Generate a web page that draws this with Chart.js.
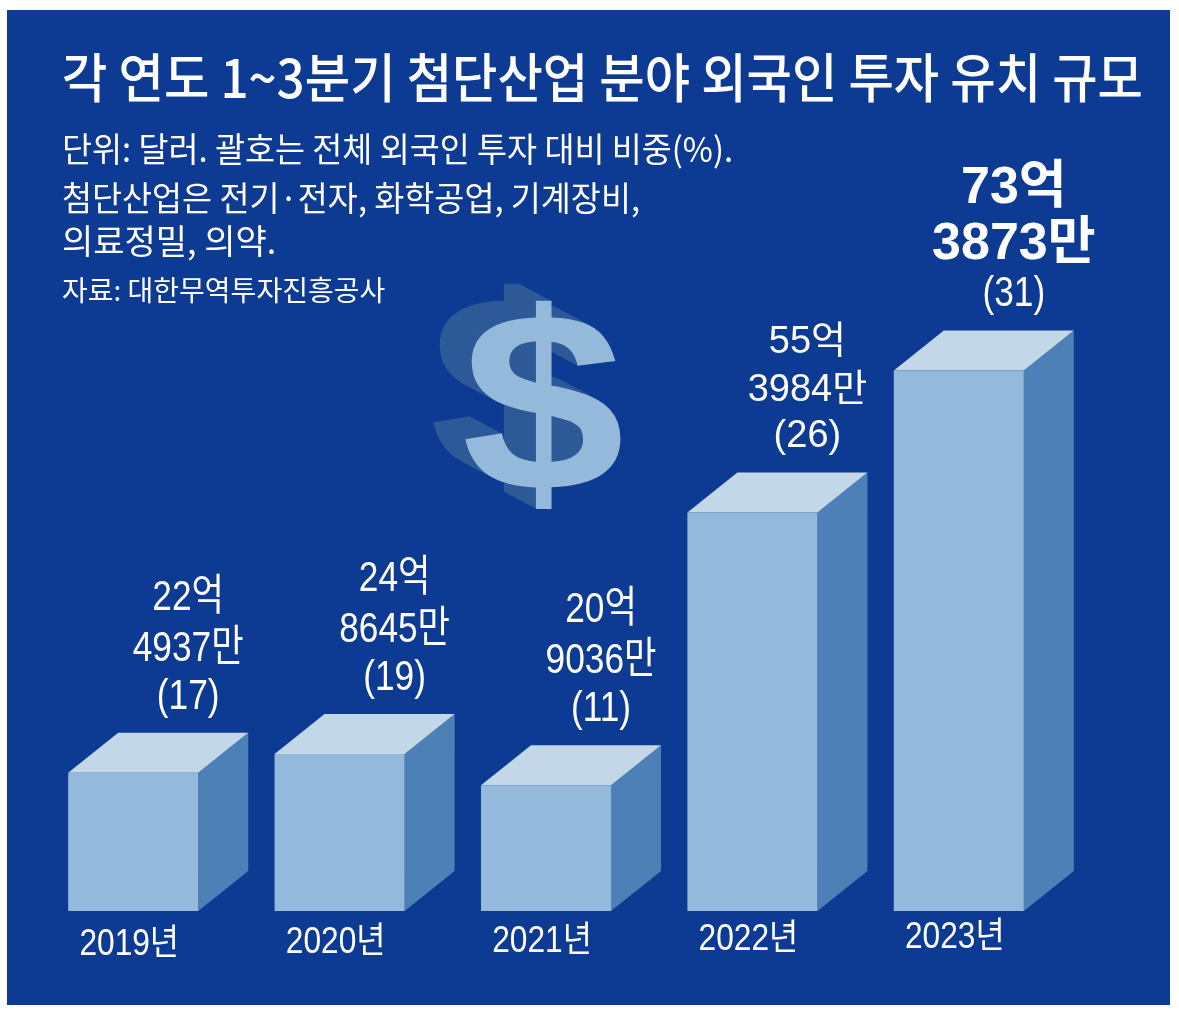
<!DOCTYPE html>
<html>
<head>
<meta charset="utf-8">
<script src="https://cdn.jsdelivr.net/npm/chart.js@4/dist/chart.umd.min.js"></script>
<style>
  html,body{margin:0;padding:0;background:#fff;}
  #wrap{width:1179px;height:1011px;}
</style>
</head>
<body>
<div id="wrap"><canvas id="c" width="1179" height="1011"></canvas></div>
<script>
// 각 연도 1~3분기 첨단산업 분야 외국인 투자 유치 규모 (단위: 억 달러)
const years = ['2019년', '2020년', '2021년', '2022년', '2023년'];
const amounts = [22.4937, 24.8645, 20.9036, 55.3984, 73.3873];
const shares = [17, 19, 11, 26, 31];

const title = '각 연도 1~3분기 첨단산업 분야 외국인 투자 유치 규모';
const notes = ['단위: 달러. 괄호는 전체 외국인 투자 대비 비중(%).', '첨단산업은 전기·전자, 화학공업, 기계장비,', '의료정밀, 의약.'];
const source = '자료: 대한무역투자진흥공사';

const BG = '#0d3b94', FRONT = '#94b9da', SIDE = '#4e80b8', TOP = '#c3d7e8';
const DX = 50, DY = -40;
const KR = '"Noto Sans CJK KR", sans-serif';
const LAT = '"Liberation Sans", "Noto Sans CJK KR", sans-serif';

function txt(ctx, s, x, y, font, sx) {
  ctx.save();
  ctx.translate(x, y);
  ctx.scale(sx || 1, 1);
  ctx.font = font;
  ctx.fillText(s, 0, 0);
  ctx.restore();
}

function splitAmount(v) {
  const n = Math.round(v * 10000);
  return [Math.floor(n / 10000) + '억', (n % 10000) + '만'];
}

const backdrop = {
  id: 'backdrop',
  beforeDraw(chart) {
    const ctx = chart.ctx;
    ctx.save();
    ctx.fillStyle = BG;
    ctx.fillRect(7, 10, 1163, 995);
    ctx.fillStyle = '#fff';
    ctx.textBaseline = 'middle';
    ctx.textAlign = 'left';
    ctx.font = '500 53px ' + KR;
    ctx.fillText(title, 62, 78, 1081);
    ctx.font = '34px ' + KR;
    ctx.fillText(notes[0], 62, 149, 671);
    ctx.fillText(notes[1], 62, 198, 578);
    ctx.fillText(notes[2], 62, 241, 220);
    ctx.font = '28px ' + KR;
    ctx.fillText(source, 62, 290, 328);

    // 3D dollar sign
    ctx.textAlign = 'center';
    ctx.textBaseline = 'alphabetic';
    ctx.font = 'bold 255px "Liberation Sans", sans-serif';
    const sx = 1.15, cx = 543 / sx, by = 490;
    ctx.save();
    ctx.scale(sx, 1);
    ctx.fillStyle = '#2e5a98';
    for (let k = 36; k >= 1; k--) {
      const t = k / 36;
      ctx.fillText('$', cx - 32 * t / sx, by - 17 * t);
    }
    ctx.fillStyle = FRONT;
    ctx.fillText('$', cx, by);
    ctx.restore();
    ctx.restore();
  }
};

const cubes = {
  id: 'cubes',
  beforeDatasetsDraw(chart) {
    const ctx = chart.ctx;
    const bottom = chart.chartArea.bottom;
    ctx.save();
    chart.getDatasetMeta(0).data.forEach(b => {
      const l = b.x - b.width / 2, r = b.x + b.width / 2;
      ctx.fillStyle = SIDE;
      ctx.beginPath();
      ctx.moveTo(r, b.y); ctx.lineTo(r + DX, b.y + DY);
      ctx.lineTo(r + DX, bottom + DY); ctx.lineTo(r, bottom);
      ctx.closePath(); ctx.fill();
      ctx.fillStyle = TOP;
      ctx.beginPath();
      ctx.moveTo(l, b.y); ctx.lineTo(l + DX, b.y + DY);
      ctx.lineTo(r + DX, b.y + DY); ctx.lineTo(r, b.y);
      ctx.closePath(); ctx.fill();
    });
    ctx.restore();
  },
  afterDatasetsDraw(chart) {
    const ctx = chart.ctx;
    const bottom = chart.chartArea.bottom;
    const bars = chart.getDatasetMeta(0).data;
    const last = amounts.length - 1;
    ctx.save();
    ctx.fillStyle = '#fff';
    ctx.textAlign = 'center';
    ctx.textBaseline = 'middle';
    bars.forEach((b, i) => {
      const [eok, man] = splitAmount(amounts[i]);
      const cx = b.x + DX + 5;
      const yb = b.y + DY - 36;
      if (i === last) {
        txt(ctx, '(' + shares[i] + ')', cx, yb, '42px ' + LAT, 0.84);
        txt(ctx, man, cx, yb - 50, 'bold 52px ' + LAT, 1);
        txt(ctx, eok, cx, yb - 106, 'bold 52px ' + LAT, 1);
      } else if (i === last - 1) {
        txt(ctx, '(' + shares[i] + ')', cx, yb, '38px ' + LAT, 1);
        txt(ctx, man, cx, yb - 46, '38px ' + LAT, 1);
        txt(ctx, eok, cx, yb - 94, '38px ' + LAT, 1);
      } else {
        txt(ctx, '(' + shares[i] + ')', cx, yb, '43px ' + LAT, 0.82);
        txt(ctx, man, cx, yb - 48, '43px ' + LAT, 0.82);
        txt(ctx, eok, cx, yb - 99, '43px ' + LAT, 0.82);
      }
      txt(ctx, years[i], b.x - 4, bottom + 34 - i * 1.7, '36px ' + LAT, 0.88);
    });
    ctx.restore();
  }
};

new Chart(document.getElementById('c'), {
  type: 'bar',
  data: {
    labels: years,
    datasets: [{
      data: amounts,
      base: 5,
      backgroundColor: FRONT,
      borderWidth: 0,
      barPercentage: 1,
      categoryPercentage: 0.63
    }]
  },
  options: {
    responsive: false,
    animation: false,
    layout: { padding: { left: 30, right: 117, top: 160, bottom: 100 } },
    plugins: { legend: { display: false }, tooltip: { enabled: false }, title: { display: false } },
    scales: {
      x: { display: false },
      y: { display: false, min: 5, max: 100 }
    }
  },
  plugins: [backdrop, cubes]
});
</script>
</body>
</html>
